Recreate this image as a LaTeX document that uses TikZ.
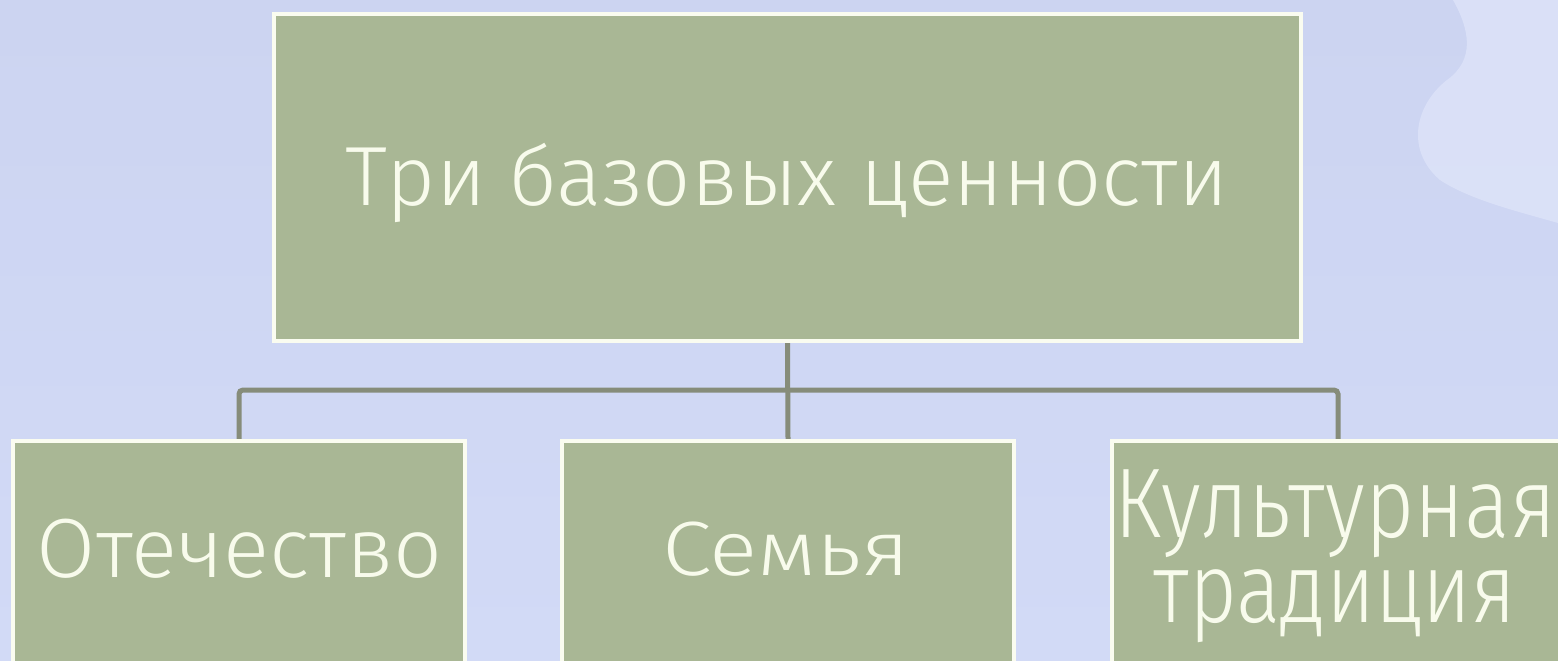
\documentclass[tikz,border=0pt]{standalone}
\usepackage{fontspec}
\setmainfont{Fira Sans}[UprightFont={* Light}]
\usetikzlibrary{calc,backgrounds}
\definecolor{boxfill}{RGB}{169,183,149}
\definecolor{boxline}{RGB}{250,252,240}
\definecolor{txt}{RGB}{248,251,236}
\definecolor{conn}{RGB}{134,140,122}
\definecolor{bgtop}{RGB}{204,212,241}
\definecolor{bgmid}{RGB}{216,223,248}
\definecolor{bgbot}{RGB}{210,218,246}
\definecolor{wave}{RGB}{224,230,250}
\newcommand{\fitw}[2]{\resizebox{#1}{\height}{#2}}
\begin{document}
\begin{tikzpicture}[x=1pt,y=-1pt,
  box/.style={draw=boxline, line width=3.5pt, fill=boxfill, inner sep=0pt, rectangle},
  lbl/.style={anchor=base, inner sep=0pt, text=txt},
  connector/.style={draw=conn, line width=5pt, rounded corners=4pt}]
\useasboundingbox (0,0) rectangle (1558,661);
\clip (0,0) rectangle (1558,661);
\begin{pgfonlayer}{background}
\shade[top color=bgtop, middle color=bgmid, bottom color=bgbot] (0,0) rectangle (1558,661);
\fill[wave, opacity=0.7] (1453,0) .. controls (1470,30) and (1475,60) .. (1447,80)
  .. controls (1415,105) and (1405,150) .. (1440,180)
  .. controls (1470,200) and (1520,212) .. (1558,223) -- (1558,0) -- cycle;
\end{pgfonlayer}
% boxes
\node[box, minimum width=1027pt, minimum height=327pt] (top) at (787.5,177.5) {};
\node[box, minimum width=452pt, minimum height=300pt, anchor=north] (l) at (239,439) {};
\node[box, minimum width=452pt, minimum height=300pt, anchor=north] (m) at (788,439) {};
\node[box, minimum width=452pt, minimum height=300pt, anchor=north] (r) at (1338,439) {};
% connectors
\coordinate (bar) at (787.5,390);
\begin{pgfonlayer}{background}
\draw[connector] (top.south) -- (m.north);
\draw[connector] (l.north) |- (bar) -| (r.north);
\end{pgfonlayer}
% texts
\node[lbl, font=\fontsize{84}{100}\selectfont] (t0) at (786.5,205) {\fitw{883pt}{Три базовых ценности}};
\node[lbl, font=\fontsize{84}{100}\selectfont] (t1) at (239.5,577) {\fitw{405pt}{Отечество}};
\node[lbl, font=\fontsize{77}{90}\selectfont] (t2) at (786,575) {\fitw{248pt}{Семья}};
\node[lbl, align=center, font=\fontsize{99}{85}\selectfont] (t3) at (1335,622)
  {\fitw{442pt}{Культурная}\\\fitw{363pt}{традиция}};
\end{tikzpicture}
\end{document}
